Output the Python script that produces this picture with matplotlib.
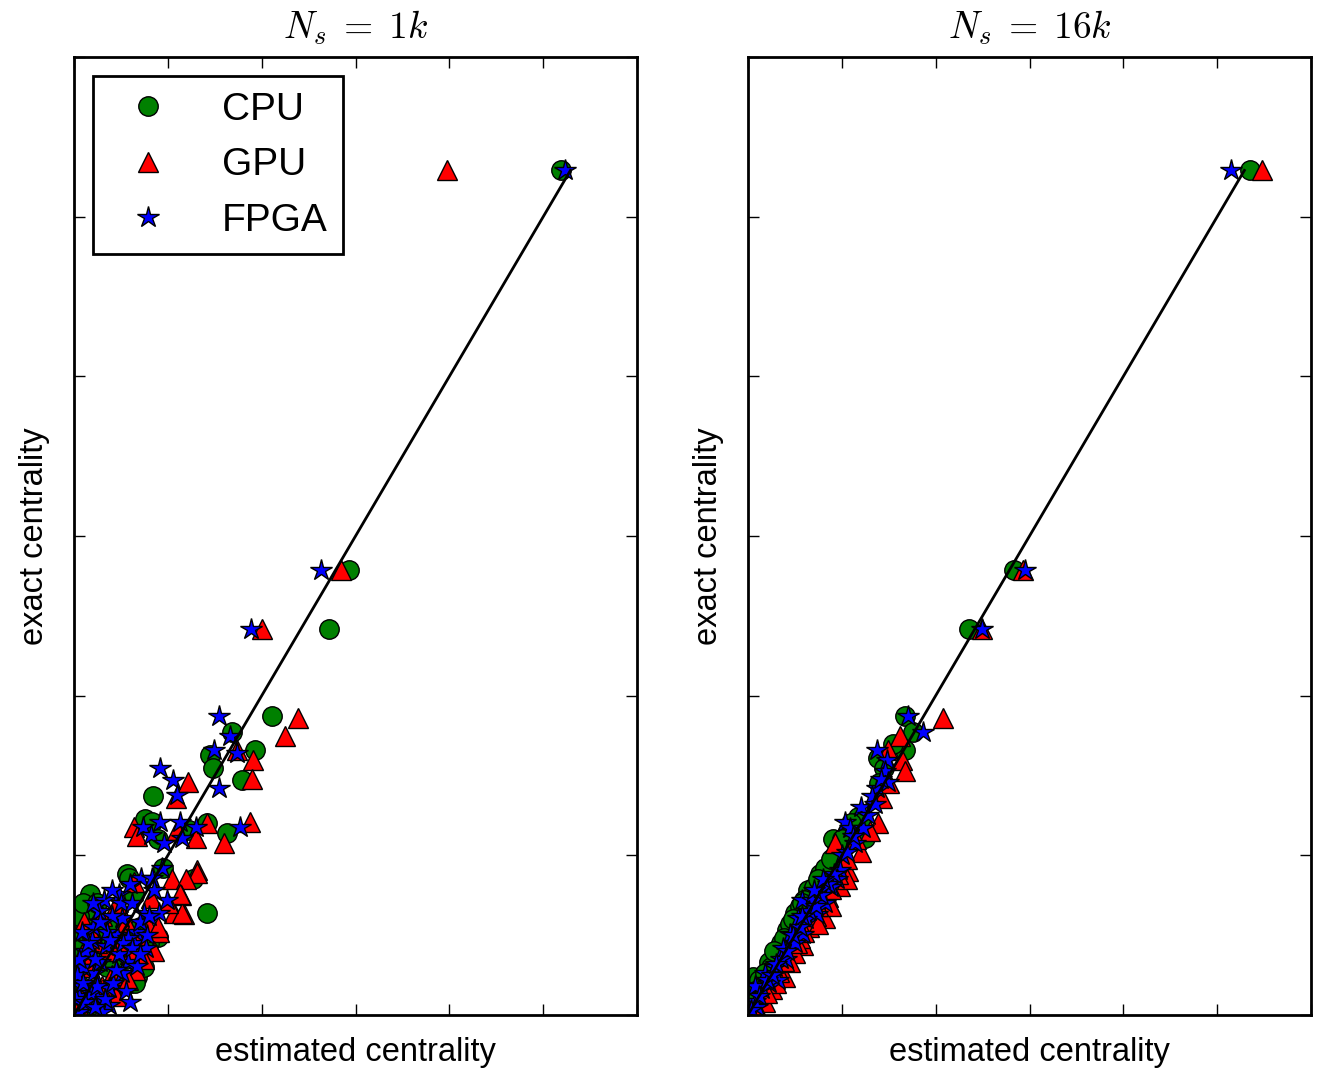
import matplotlib
matplotlib.use("Agg")
import matplotlib.pyplot as plt

plt.rcParams['font.family'] = ['Liberation Sans', 'DejaVu Sans']
plt.rcParams['mathtext.fontset'] = 'cm'

titles = [r"$N_s \;=\; 1k$", r"$N_s \;=\; 16k$"]
series_names = ["CPU", "GPU", "FPGA"]
tick_values = [0, 1, 2, 3, 4, 5, 6]

# ---- N_s = 1k  (estimated, exact) ----
cpu1_est = [5.19, 2.93, 2.72, 2.11, 1.68, 1.45, 1.93, 1.48, 1.79, 0.84, 0.76, 0.83, 0.90, 1.23,
            1.42, 1.63, 0.56, 0.95, 0.59, 1.27, 0.17, 0.64, 1.42, 0.12, 0.90, 0.67, 0.61,
            0.03, 0.05, 0.02, 0.04, 0.08, 0.15, 0.20, 0.30, 0.35, 0.45, 0.55, 0.25, 0.40,
            0.60, 0.70, 0.12, 0.50, 0.30, 0.01,
            0.05, 0.10, 0.75, 0.80, 0.65, 0.25]
cpu1_exa = [5.29, 2.79, 2.42, 1.87, 1.77, 1.63, 1.66, 1.55, 1.47, 1.37, 1.23, 1.21, 1.10, 1.16,
            1.20, 1.14, 0.88, 0.92, 0.86, 0.85, 0.76, 0.75, 0.64, 0.65, 0.49, 0.24, 0.20,
            0.40, 0.47, 0.30, 0.20, 0.10, 0.05, 0.15, 0.10, 0.30, 0.40, 0.35, 0.35, 0.55,
            0.50, 0.55, 0.55, 0.20, 0.50, 0.42,
            0.62, 0.70, 0.30, 0.45, 0.20, 0.70]

gpu1_est = [3.97, 2.84, 2.00, 2.39, 2.25, 1.74, 1.91, 1.90, 1.21, 1.09, 0.64, 0.67, 1.10, 1.30,
            1.42, 1.88, 1.60, 1.31, 1.31, 1.04, 1.19, 0.64, 0.46, 0.82, 1.14, 1.07, 1.17,
            0.11, 0.91, 1.15, 1.13,
            0.05, 0.10, 0.20, 0.30, 0.40, 0.35, 0.50, 0.60, 0.15, 0.25, 0.55, 0.70, 0.45,
            0.08, 0.80, 0.65,
            0.85, 0.75, 0.90, 0.58, 0.30, 0.18, 1.00]
gpu1_exa = [5.29, 2.79, 2.42, 1.86, 1.75, 1.66, 1.60, 1.48, 1.46, 1.36, 1.18, 1.12, 1.16, 1.11,
            1.20, 1.21, 1.08, 0.91, 0.89, 0.85, 0.85, 0.83, 0.70, 0.73, 0.75, 0.64, 0.63,
            0.58, 0.52, 0.64, 0.76,
            0.05, 0.15, 0.08, 0.18, 0.25, 0.40, 0.45, 0.38, 0.30, 0.45, 0.58, 0.48, 0.12,
            0.38, 0.55, 0.28,
            0.40, 0.35, 0.55, 0.22, 0.62, 0.52, 0.70]

fpga1_est = [5.23, 2.63, 1.89, 1.54, 1.66, 1.49, 1.74, 0.92, 1.05, 1.10, 1.55, 0.92, 0.73, 0.82,
             0.96, 1.13, 1.30, 1.15, 1.77, 0.71, 0.94, 0.83, 0.32, 0.48, 0.27, 0.51, 0.75,
             0.91, 0.99, 0.66, 0.46, 0.19, 0.34, 0.77, 0.64, 0.57, 0.67, 0.51, 0.21, 0.07,
             0.37, 0.25, 0.14, 0.37,
             0.05, 0.10, 0.15, 0.28, 0.42, 0.48, 0.55, 0.03, 0.20, 0.40, 0.60, 0.30, 0.05,
             0.12, 0.22, 0.35, 0.45, 0.58, 0.70, 0.02, 0.18,
             0.10, 0.25, 0.33, 0.45, 0.52, 0.62, 0.38, 0.28, 0.50, 0.62, 0.80, 0.70, 0.05,
             0.15, 0.85, 0.60, 0.40, 0.20, 0.12, 0.22, 0.08, 0.78]
fpga1_exa = [5.29, 2.79, 2.42, 1.87, 1.75, 1.66, 1.64, 1.55, 1.47, 1.38, 1.42, 1.21, 1.18, 1.13,
             1.08, 1.21, 1.18, 1.11, 1.18, 0.86, 0.92, 0.86, 0.72, 0.76, 0.65, 0.61, 0.64,
             0.64, 0.72, 0.52, 0.50, 0.47, 0.43, 0.42, 0.45, 0.33, 0.31, 0.26, 0.26, 0.18,
             0.17, 0.11, 0.05, 0.06,
             0.12, 0.30, 0.38, 0.33, 0.20, 0.38, 0.15, 0.25, 0.55, 0.62, 0.08, 0.02, 0.02,
             0.40, 0.35, 0.52, 0.28, 0.48, 0.58, 0.10, 0.14,
             0.20, 0.18, 0.10, 0.28, 0.45, 0.42, 0.47, 0.58, 0.70, 0.70, 0.62, 0.38, 0.35,
             0.45, 0.78, 0.82, 0.78, 0.70, 0.08, 0.05, 0.52, 0.50]

# ---- N_s = 16k  (estimated, exact) ----
cpu16_est = [5.35, 2.83, 2.35, 1.67, 1.76, 1.67, 1.39, 1.45, 1.40, 1.17, 1.20, 0.91, 1.25, 1.05,
             0.77, 0.82, 0.64, 0.70, 0.50, 0.55, 0.42, 0.45, 0.35, 0.30, 0.22, 0.05, 0.12,
             0.08, 0.03, 0.15, 0.25, 0.60, 0.95, 1.10, 1.55,
             0.18, 0.38, 0.58, 0.75, 0.88, 1.00, 0.28, 0.48]
cpu16_exa = [5.29, 2.79, 2.42, 1.87, 1.77, 1.66, 1.61, 1.55, 1.45, 1.24, 1.22, 1.10, 1.11, 1.14,
             0.88, 0.92, 0.78, 0.80, 0.64, 0.68, 0.53, 0.57, 0.45, 0.38, 0.33, 0.24, 0.22,
             0.15, 0.08, 0.18, 0.30, 0.72, 1.00, 1.20, 1.70,
             0.26, 0.48, 0.70, 0.85, 0.98, 1.10, 0.40, 0.60]

gpu16_est = [5.48, 2.93, 2.49, 2.08, 1.62, 1.49, 1.64, 1.67, 1.43, 1.50, 1.39, 1.30, 0.93, 1.07,
             0.98, 1.05, 0.85, 0.82, 0.88, 0.59, 0.50, 0.65, 0.72, 0.39, 0.26, 0.30, 0.45,
             0.18, 0.10, 0.55, 0.75, 1.20, 1.15,
             0.20, 0.33, 0.52, 0.60, 0.75, 0.88, 0.96, 1.06, 0.38]
gpu16_exa = [5.29, 2.79, 2.42, 1.86, 1.75, 1.66, 1.60, 1.53, 1.36, 1.45, 1.20, 1.15, 1.08, 0.90,
             0.81, 0.85, 0.74, 0.61, 0.68, 0.44, 0.39, 0.55, 0.62, 0.24, 0.16, 0.20, 0.33,
             0.08, 0.04, 0.48, 0.57, 1.02, 1.10,
             0.14, 0.27, 0.45, 0.52, 0.68, 0.79, 0.88, 0.98, 0.34]

fpga16_est = [5.15, 2.95, 2.49, 1.71, 1.87, 1.38, 1.48, 1.46, 1.38, 1.32, 1.49, 1.03, 1.09, 1.23,
              1.14, 0.98, 0.95, 0.58, 0.68, 0.82, 0.53, 0.74, 0.45, 0.59, 0.37, 0.18, 0.29,
              0.15, 0.07, 0.32, 0.07, 0.22, 0.40, 0.50, 0.62, 0.10, 0.03, 1.20, 0.88, 1.00,
              0.12, 0.20, 0.26, 0.35, 0.42, 0.48, 0.55, 0.65, 0.72, 0.78, 0.85, 0.92, 1.05,
              1.12, 1.28, 1.35, 1.42, 0.30, 0.58, 0.70, 0.80]
fpga16_exa = [5.29, 2.79, 2.42, 1.87, 1.77, 1.66, 1.60, 1.53, 1.42, 1.37, 1.46, 1.21, 1.17, 1.17,
              1.08, 0.91, 0.85, 0.72, 0.72, 0.70, 0.61, 0.63, 0.51, 0.51, 0.42, 0.26, 0.30,
              0.16, 0.09, 0.22, 0.18, 0.20, 0.35, 0.45, 0.60, 0.05, 0.03, 1.30, 0.80, 1.00,
              0.12, 0.22, 0.25, 0.35, 0.40, 0.50, 0.55, 0.65, 0.68, 0.75, 0.82, 0.88, 1.02,
              1.12, 1.25, 1.32, 1.48, 0.32, 0.62, 0.78, 0.85]

panels = [
    [(cpu1_est, cpu1_exa), (gpu1_est, gpu1_exa), (fpga1_est, fpga1_exa)],
    [(cpu16_est, cpu16_exa), (gpu16_est, gpu16_exa), (fpga16_est, fpga16_exa)],
]

styles = [dict(marker='o', color='green', ms=14),
          dict(marker='^', color='red', ms=15),
          dict(marker='*', color='blue', ms=16)]

fig = plt.figure(figsize=(13.22, 10.70), dpi=100)
positions = [[0.056, 0.0514, 0.4259, 0.8953], [0.5658, 0.0514, 0.4259, 0.8953]]

for i, (pos, data, title) in enumerate(zip(positions, panels, titles)):
    ax = fig.add_axes(pos)
    for (est, exa), st, name in zip(data, styles, series_names):
        ax.plot(est, exa, linestyle='none', marker=st['marker'], markersize=st['ms'],
                markerfacecolor=st['color'], markeredgecolor='black', markeredgewidth=1.0,
                label=name)
    top = max(data[0][1])
    ax.plot([0, top], [0, top], color='black', lw=2.0, zorder=5)
    ax.set_xlim(0, 6)
    ax.set_ylim(0, 6)
    ax.set_xticks(tick_values)
    ax.set_yticks(tick_values)
    ax.set_xticklabels([])
    ax.set_yticklabels([])
    ax.tick_params(direction='in', length=8, width=1.0, top=True, right=True)
    for sp in ax.spines.values():
        sp.set_linewidth(2.0)
    ax.set_xlabel("estimated centrality", fontsize=23.5, labelpad=12)
    ax.set_ylabel("exact centrality", fontsize=23.5, labelpad=14)
    ax.set_title(title, fontsize=27, pad=13)
    if i == 0:
        leg = ax.legend(loc='upper left', numpoints=1, fontsize=28, fancybox=False,
                        framealpha=1, edgecolor='black', borderaxespad=0.5,
                        handletextpad=0.9)
        leg.get_frame().set_linewidth(2.0)

fig.savefig("out.png", dpi=100)
